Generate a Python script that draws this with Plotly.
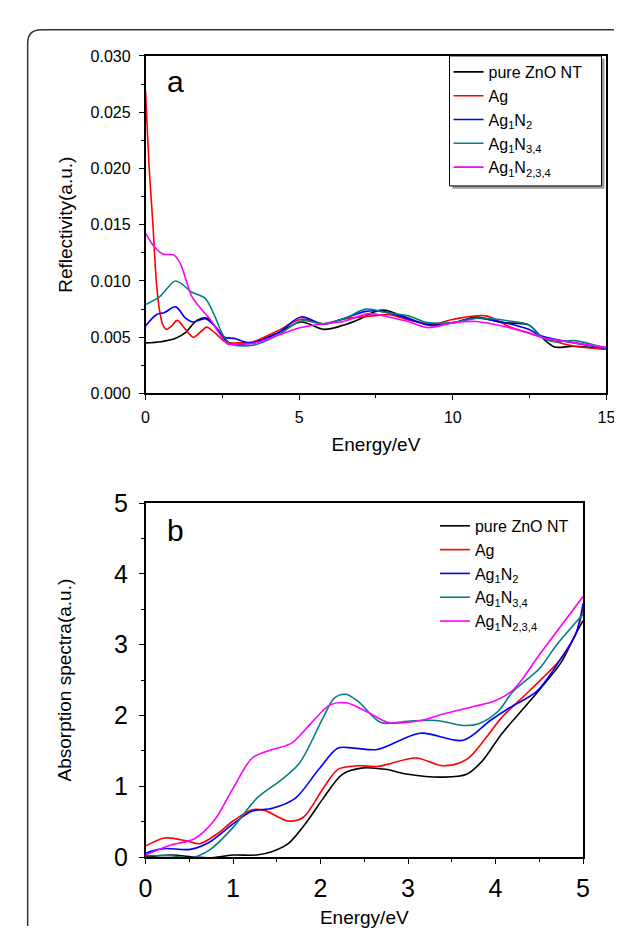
import plotly.graph_objects as go

# panel a: reflectivity vs energy (values in units of 1e-3)
a_black_x = [0, 0.5, 0.98, 1.3, 1.67, 1.99, 2.25, 2.57, 2.8, 3.5, 4.32, 5.06, 5.8, 6.43, 6.96, 7.49, 7.81, 8.34, 9.18, 10.03, 10.77, 11.6, 12.47, 12.89, 13.31, 13.95, 15]
a_black_y = [4.5, 4.6, 4.9, 5.4, 6.5, 6.7, 6.0, 4.85, 4.4, 4.55, 5.4, 6.35, 5.7, 6.06, 6.6, 7.3, 7.4, 6.9, 6.15, 6.3, 6.8, 6.3, 6.1, 5.0, 4.14, 4.2, 3.94]
a_red_x = [0, 0.12, 0.24, 0.35, 0.45, 0.55, 0.67, 0.85, 1.03, 1.3, 1.56, 1.8, 1.99, 2.25, 2.62, 3.0, 3.5, 4.32, 5.06, 5.8, 6.43, 7.38, 7.92, 8.77, 9.4, 10.03, 11.09, 11.83, 12.89, 13.95, 15]
a_red_y = [26.9, 20, 15, 10, 7.5, 6.2, 5.7, 6.0, 6.5, 5.7, 5.0, 5.5, 5.9, 5.4, 4.55, 4.5, 4.6, 5.6, 6.6, 6.2, 6.6, 6.9, 7.0, 6.4, 6.2, 6.6, 6.9, 5.95, 5.0, 4.2, 3.94]
a_blue_x = [0, 0.35, 0.62, 0.98, 1.3, 1.56, 1.94, 2.25, 2.57, 2.89, 3.41, 4.32, 5.06, 5.8, 6.43, 7.17, 7.7, 8.5, 9.25, 10.03, 10.77, 11.83, 12.47, 12.89, 13.95, 15]
a_blue_y = [6.0, 7.0, 7.2, 7.7, 6.7, 6.35, 6.65, 6.0, 5.0, 4.9, 4.5, 5.4, 6.8, 6.15, 6.64, 7.3, 7.3, 6.7, 6.06, 6.3, 6.7, 6.2, 5.7, 5.1, 4.5, 4.0]
a_teal_x = [0, 0.46, 0.98, 1.51, 1.94, 2.25, 2.52, 2.78, 3.52, 4.32, 5.06, 5.8, 6.5, 7.17, 7.81, 8.55, 9.18, 10.03, 10.77, 11.83, 12.47, 12.89, 13.31, 13.95, 15]
a_teal_y = [7.9, 8.6, 10.0, 9.0, 8.45, 6.9, 5.2, 4.4, 4.3, 5.2, 6.44, 6.2, 6.7, 7.5, 7.2, 6.9, 6.3, 6.3, 6.7, 6.45, 6.1, 5.0, 4.6, 4.7, 4.0]
a_mag_x = [0, 0.24, 0.56, 0.93, 1.14, 1.51, 1.83, 2.1, 2.41, 2.67, 3.0, 3.6, 4.32, 5.06, 5.8, 6.43, 7.28, 7.9, 8.55, 9.18, 10.03, 10.77, 11.6, 12.47, 12.89, 13.95, 15]
a_mag_y = [14.25, 13.2, 12.4, 12.3, 11.5, 8.6, 7.45, 6.6, 5.3, 4.4, 4.4, 4.5, 5.2, 5.86, 6.2, 6.4, 7.1, 6.8, 6.4, 5.86, 6.3, 6.4, 6.0, 5.4, 5.0, 4.5, 4.1]

# panel b: absorption spectra
b_black_x = [0, 0.29, 0.56, 0.73, 1.0, 1.27, 1.45, 1.63, 1.85, 2.03, 2.25, 2.49, 2.74, 3.0, 3.4, 3.67, 3.85, 4.07, 4.39, 4.75, 4.9, 5.0]
b_black_y = [0, 0.03, 0, -0.01, 0.03, 0.03, 0.08, 0.19, 0.51, 0.83, 1.17, 1.26, 1.24, 1.17, 1.13, 1.17, 1.36, 1.74, 2.2, 2.75, 3.11, 3.34]
b_red_x = [0, 0.22, 0.47, 0.62, 0.82, 1.0, 1.22, 1.36, 1.63, 1.8, 2.03, 2.2, 2.43, 2.65, 3.09, 3.4, 3.67, 3.9, 4.07, 4.38, 4.74, 4.92, 5.0]
b_red_y = [0.155, 0.27, 0.23, 0.19, 0.33, 0.51, 0.67, 0.66, 0.51, 0.56, 0.97, 1.24, 1.29, 1.28, 1.40, 1.29, 1.38, 1.7, 1.97, 2.34, 2.79, 3.16, 3.52]
b_blue_x = [0, 0.2, 0.51, 0.73, 1.0, 1.22, 1.45, 1.71, 1.98, 2.2, 2.38, 2.65, 3.14, 3.63, 3.94, 4.16, 4.47, 4.74, 4.92, 5.0]
b_blue_y = [0.055, 0.12, 0.11, 0.21, 0.47, 0.65, 0.69, 0.83, 1.24, 1.54, 1.54, 1.52, 1.75, 1.65, 1.93, 2.11, 2.34, 2.79, 3.16, 3.58]
b_teal_x = [0, 0.29, 0.51, 0.73, 1.0, 1.27, 1.54, 1.76, 2.03, 2.16, 2.29, 2.43, 2.69, 3.0, 3.32, 3.63, 3.8, 4.03, 4.2, 4.5, 4.7, 5.0]
b_teal_y = [0.02, 0.02, -0.01, 0.1, 0.42, 0.83, 1.08, 1.33, 1.97, 2.25, 2.3, 2.2, 1.9, 1.92, 1.93, 1.86, 1.88, 2.06, 2.34, 2.66, 3.0, 3.43]
b_mag_x = [0, 0.29, 0.56, 0.78, 1.0, 1.22, 1.45, 1.67, 1.89, 2.11, 2.29, 2.52, 2.78, 3.14, 3.4, 3.76, 3.98, 4.2, 4.52, 5.0]
b_mag_y = [0.03, 0.17, 0.26, 0.51, 0.97, 1.4, 1.52, 1.61, 1.89, 2.15, 2.18, 2.06, 1.9, 1.93, 2.02, 2.13, 2.2, 2.36, 2.89, 3.68]

names = ["pure ZnO NT", "Ag", "Ag<sub>1</sub>N<sub>2</sub>", "Ag<sub>1</sub>N<sub>3,4</sub>", "Ag<sub>1</sub>N<sub>2,3,4</sub>"]
colors = ["#000000", "#ff0000", "#0000ff", "#008080", "#ff00ff"]

W, H = 622, 932
FONT = "Liberation Sans, Arial, sans-serif"

a_series = [(a_black_x, a_black_y), (a_red_x, a_red_y), (a_blue_x, a_blue_y), (a_teal_x, a_teal_y), (a_mag_x, a_mag_y)]
b_series = [(b_black_x, b_black_y), (b_red_x, b_red_y), (b_blue_x, b_blue_y), (b_teal_x, b_teal_y), (b_mag_x, b_mag_y)]

fig = go.Figure()
for i, (xs, ys) in enumerate(a_series):
    fig.add_trace(go.Scatter(x=xs, y=[v / 1000 for v in ys], name=names[i], mode="lines",
                             line=dict(color=colors[i], width=1.6, shape="spline", smoothing=0.9),
                             xaxis="x", yaxis="y", legend="legend"))
for i, (xs, ys) in enumerate(b_series):
    fig.add_trace(go.Scatter(x=xs, y=ys, name=names[i], mode="lines",
                             line=dict(color=colors[i], width=1.6, shape="spline", smoothing=0.9),
                             xaxis="x2", yaxis="y2", legend="legend2"))

def px(x):
    return x / W

def py(y):
    return 1 - y / H

axis_common = dict(showline=True, linecolor="black", linewidth=1.5, mirror=True,
                   ticks="outside", tickcolor="black", showgrid=False, zeroline=False)

fig.update_layout(
    width=W, height=H,
    margin=dict(l=0, r=0, t=0, b=0),
    paper_bgcolor="white", plot_bgcolor="white",
    font=dict(family=FONT, color="black"),
    xaxis=dict(domain=[px(134), px(607)], range=[0, 15], dtick=5, ticklen=5, ticklabelstandoff=4,
               minor=dict(ticks="outside", dtick=2.5, ticklen=3, tickcolor="black"),
               tickfont=dict(size=16), title=dict(text="Energy/eV", font=dict(size=19), standoff=12),
               anchor="y", **axis_common),
    yaxis=dict(domain=[py(383), py(35)], range=[0, 0.03], dtick=0.005, tickformat=".3f", ticklen=5,
               ticklabelstandoff=5,
               minor=dict(ticks="outside", dtick=0.0025, ticklen=3, tickcolor="black"),
               tickfont=dict(size=16), title=dict(text="Reflectivity(a.u.)", font=dict(size=19), standoff=13),
               anchor="x", **axis_common),
    xaxis2=dict(domain=[px(134), px(583)], range=[0, 5], dtick=1, ticklen=5, ticklabelstandoff=3,
                minor=dict(ticks="outside", dtick=0.5, ticklen=3, tickcolor="black"),
                tickfont=dict(size=25), title=dict(text="Energy/eV", font=dict(size=19), standoff=10),
                anchor="y2", **axis_common),
    yaxis2=dict(domain=[py(861), py(496)], range=[0, 5], dtick=1, ticklen=5, ticklabelstandoff=6,
                minor=dict(ticks="outside", dtick=0.5, ticklen=3, tickcolor="black"),
                tickfont=dict(size=25), title=dict(text="Absorption spectra(a.u.)", font=dict(size=19), standoff=37),
                anchor="x2", **axis_common),
    legend=dict(x=px(445), y=py(34), xanchor="left", yanchor="top", bgcolor="rgba(0,0,0,0)",
                borderwidth=0, font=dict(size=16), itemwidth=30),
    legend2=dict(x=px(431), y=py(502), xanchor="left", yanchor="top", bgcolor="rgba(0,0,0,0)",
                 borderwidth=0, font=dict(size=16), itemwidth=30),
    annotations=[
        dict(text="a", x=px(154), y=py(42), xref="paper", yref="paper", showarrow=False,
             font=dict(size=30)),
        dict(text="b", x=px(154), y=py(524), xref="paper", yref="paper", showarrow=False,
             font=dict(size=30)),
    ],
    shapes=[
        # outer rounded frame
        dict(type="path", xref="paper", yref="paper",
             path="M %f,%f L %f,%f Q %f,%f %f,%f L %f,%f" % (px(13), 0, px(13), py(22), px(13), py(8), px(27), py(8), 1.0, py(8)),
             line=dict(color="#333333", width=1.5)),
        # legend box of panel a with its shadow
        dict(type="rect", xref="paper", yref="paper", x0=px(449), x1=px(605), y0=py(172), y1=py(38),
             fillcolor="#9a9a9a", line=dict(width=0), layer="above"),
        dict(type="rect", xref="paper", yref="paper", x0=px(446), x1=px(602), y0=py(169), y1=py(35),
             fillcolor="white", line=dict(color="black", width=1), layer="above"),
    ],
)

fig.write_html("out.html")
